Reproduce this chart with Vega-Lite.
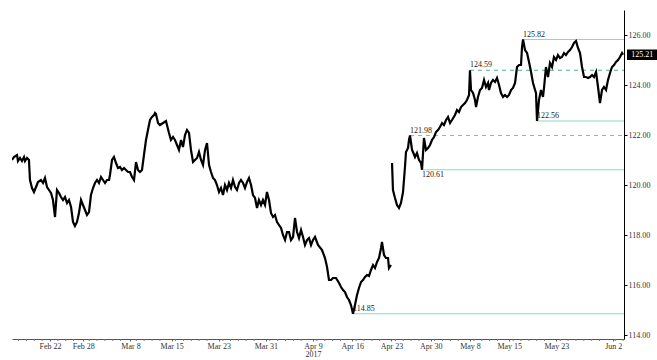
{
  "$schema": "https://vega.github.io/schema/vega-lite/v6.json",
  "width": 612,
  "height": 329,
  "autosize": "none",
  "padding": {"left": 12, "top": 10, "right": 33, "bottom": 21},
  "background": "white",
  "config": {
    "view": {"stroke": null},
    "font": "Liberation Sans Narrow",
    "text": {"font": "Liberation Sans Narrow"},
    "axis": {"labelFont": "Liberation Sans Narrow", "labelFontSize": 8, "labelColor": "#333", "grid": false}
  },
  "datasets": {
    "price": [
      {"t":-4.84,"p":121.00,"s":1},{"t":-4.59,"p":121.12,"s":1},{"t":-4.20,"p":121.20,"s":1},{"t":-4.08,"p":120.96,"s":1},{"t":-3.82,"p":121.08,"s":1},{"t":-3.57,"p":120.96,"s":1},{"t":-3.31,"p":121.12,"s":1},{"t":-3.18,"p":120.96,"s":1},{"t":-2.93,"p":121.08,"s":1},{"t":-2.68,"p":121.00,"s":1},
      {"t":-2.55,"p":120.20,"s":1},{"t":-2.29,"p":119.88,"s":1},{"t":-2.04,"p":119.72,"s":1},{"t":-1.78,"p":119.92,"s":1},{"t":-1.53,"p":120.12,"s":1},{"t":-1.15,"p":120.20,"s":1},{"t":-0.89,"p":120.08,"s":1},{"t":-0.64,"p":120.28,"s":1},{"t":-0.38,"p":119.92,"s":1},{"t":-0.13,"p":119.80,"s":1},
      {"t":0.13,"p":119.68,"s":1},{"t":0.38,"p":119.40,"s":1},{"t":0.64,"p":118.72,"s":1},{"t":0.89,"p":119.80,"s":1},{"t":1.15,"p":119.68,"s":1},{"t":1.40,"p":119.52,"s":1},{"t":1.66,"p":119.40,"s":1},{"t":1.91,"p":119.52,"s":1},{"t":2.17,"p":119.28,"s":1},{"t":2.42,"p":119.40,"s":1},
      {"t":2.68,"p":119.12,"s":1},{"t":2.93,"p":118.52,"s":1},{"t":3.18,"p":118.36,"s":1},{"t":3.44,"p":118.52,"s":1},{"t":3.69,"p":118.88,"s":1},{"t":3.95,"p":119.40,"s":1},{"t":4.20,"p":119.20,"s":1},{"t":4.46,"p":119.00,"s":1},{"t":4.71,"p":118.80,"s":1},{"t":4.97,"p":118.92,"s":1},
      {"t":5.22,"p":119.60,"s":1},{"t":5.48,"p":119.88,"s":1},{"t":5.73,"p":120.08,"s":1},{"t":5.99,"p":120.20,"s":1},{"t":6.24,"p":120.08,"s":1},{"t":6.50,"p":120.32,"s":1},{"t":6.75,"p":120.20,"s":1},{"t":7.01,"p":120.08,"s":1},{"t":7.26,"p":120.20,"s":1},{"t":7.52,"p":120.20,"s":1},
      {"t":7.64,"p":120.40,"s":1},{"t":7.90,"p":121.00,"s":1},{"t":8.15,"p":121.12,"s":1},{"t":8.41,"p":120.88,"s":1},{"t":8.66,"p":120.68,"s":1},{"t":8.92,"p":120.72,"s":1},{"t":9.17,"p":120.60,"s":1},{"t":9.43,"p":120.68,"s":1},{"t":9.68,"p":120.60,"s":1},{"t":9.94,"p":120.52,"s":1},
      {"t":10.19,"p":120.52,"s":1},{"t":10.45,"p":120.32,"s":1},{"t":10.70,"p":120.20,"s":1},{"t":10.96,"p":120.92,"s":1},{"t":11.21,"p":120.60,"s":1},{"t":11.46,"p":120.52,"s":1},{"t":11.72,"p":120.60,"s":1},{"t":11.97,"p":121.20,"s":1},{"t":12.23,"p":121.80,"s":1},{"t":12.48,"p":122.20,"s":1},
      {"t":12.74,"p":122.60,"s":1},{"t":12.99,"p":122.72,"s":1},{"t":13.25,"p":122.80,"s":1},{"t":13.38,"p":122.88,"s":1},{"t":13.50,"p":122.84,"s":1},{"t":13.76,"p":122.48,"s":1},{"t":14.01,"p":122.40,"s":1},{"t":14.40,"p":122.48,"s":1},{"t":14.78,"p":122.56,"s":1},{"t":14.90,"p":122.40,"s":1},
      {"t":15.16,"p":122.08,"s":1},{"t":15.41,"p":121.80,"s":1},{"t":15.67,"p":121.92,"s":1},{"t":15.92,"p":121.80,"s":1},{"t":16.18,"p":121.60,"s":1},{"t":16.43,"p":121.40,"s":1},{"t":16.69,"p":121.80,"s":1},{"t":16.94,"p":121.52,"s":1},{"t":17.20,"p":122.00,"s":1},{"t":17.45,"p":122.20,"s":1},
      {"t":17.71,"p":122.08,"s":1},{"t":17.96,"p":121.40,"s":1},{"t":18.22,"p":120.92,"s":1},{"t":18.47,"p":121.00,"s":1},{"t":18.73,"p":121.08,"s":1},{"t":18.98,"p":121.32,"s":1},{"t":19.24,"p":121.00,"s":1},{"t":19.49,"p":120.80,"s":1},{"t":19.75,"p":121.40,"s":1},{"t":20.00,"p":121.68,"s":1},
      {"t":20.26,"p":120.80,"s":1},{"t":20.51,"p":120.52,"s":1},{"t":20.77,"p":120.28,"s":1},{"t":21.02,"p":120.20,"s":1},{"t":21.27,"p":120.00,"s":1},{"t":21.53,"p":119.72,"s":1},{"t":21.78,"p":119.88,"s":1},{"t":22.04,"p":119.60,"s":1},{"t":22.29,"p":120.00,"s":1},{"t":22.55,"p":119.80,"s":1},
      {"t":22.80,"p":120.08,"s":1},{"t":23.06,"p":119.88,"s":1},{"t":23.31,"p":120.20,"s":1},{"t":23.57,"p":119.92,"s":1},{"t":23.82,"p":119.80,"s":1},{"t":24.08,"p":120.08,"s":1},{"t":24.33,"p":120.20,"s":1},{"t":24.59,"p":120.08,"s":1},{"t":24.84,"p":119.88,"s":1},{"t":25.10,"p":120.12,"s":1},
      {"t":25.35,"p":120.28,"s":1},{"t":25.61,"p":120.00,"s":1},{"t":25.86,"p":119.60,"s":1},{"t":26.12,"p":119.48,"s":1},{"t":26.37,"p":119.08,"s":1},{"t":26.62,"p":119.40,"s":1},{"t":26.88,"p":119.20,"s":1},{"t":27.13,"p":119.40,"s":1},{"t":27.39,"p":119.20,"s":1},{"t":27.64,"p":119.72,"s":1},
      {"t":27.90,"p":119.40,"s":1},{"t":28.15,"p":118.88,"s":1},{"t":28.41,"p":118.72,"s":1},{"t":28.66,"p":118.80,"s":1},{"t":28.92,"p":118.52,"s":1},{"t":29.17,"p":118.40,"s":1},{"t":29.43,"p":118.28,"s":1},{"t":29.68,"p":118.00,"s":1},{"t":29.94,"p":117.80,"s":1},{"t":30.19,"p":118.12,"s":1},
      {"t":30.45,"p":118.12,"s":1},{"t":30.70,"p":117.80,"s":1},{"t":30.96,"p":117.92,"s":1},{"t":31.21,"p":118.68,"s":1},{"t":31.47,"p":118.12,"s":1},{"t":31.72,"p":117.88,"s":1},{"t":31.98,"p":118.20,"s":1},{"t":32.23,"p":117.92,"s":1},{"t":32.48,"p":117.60,"s":1},{"t":32.74,"p":117.80,"s":1},
      {"t":32.99,"p":117.88,"s":1},{"t":33.25,"p":117.60,"s":1},{"t":33.50,"p":117.80,"s":1},{"t":33.76,"p":117.92,"s":1},{"t":34.14,"p":117.60,"s":1},{"t":34.65,"p":117.40,"s":1},{"t":35.03,"p":117.08,"s":1},{"t":35.29,"p":116.72,"s":1},{"t":35.54,"p":116.20,"s":1},{"t":35.80,"p":116.20,"s":1},
      {"t":36.05,"p":116.28,"s":1},{"t":36.43,"p":116.28,"s":1},{"t":36.82,"p":116.08,"s":1},{"t":37.07,"p":115.92,"s":1},{"t":37.33,"p":115.80,"s":1},{"t":37.58,"p":115.72,"s":1},{"t":37.83,"p":115.52,"s":1},{"t":38.09,"p":115.40,"s":1},{"t":38.34,"p":115.20,"s":1},{"t":38.60,"p":114.85,"s":1},
      {"t":38.85,"p":115.20,"s":1},{"t":39.11,"p":115.60,"s":1},{"t":39.36,"p":115.88,"s":1},{"t":39.62,"p":116.12,"s":1},{"t":39.87,"p":116.20,"s":1},{"t":40.13,"p":116.32,"s":1},{"t":40.38,"p":116.40,"s":1},{"t":40.64,"p":116.36,"s":1},{"t":40.89,"p":116.60,"s":1},{"t":41.15,"p":116.80,"s":1},
      {"t":41.40,"p":116.68,"s":1},{"t":41.66,"p":116.92,"s":1},{"t":41.91,"p":117.08,"s":1},{"t":42.17,"p":117.48,"s":1},{"t":42.29,"p":117.72,"s":1},{"t":42.55,"p":117.20,"s":1},{"t":42.80,"p":117.08,"s":1},{"t":43.06,"p":117.08,"s":1},{"t":43.18,"p":116.68,"s":1},{"t":43.44,"p":116.80,"s":1},
      {"t":43.57,"p":120.88,"s":2},{"t":43.69,"p":119.80,"s":2},{"t":43.95,"p":119.48,"s":2},{"t":44.20,"p":119.20,"s":2},{"t":44.46,"p":119.08,"s":2},{"t":44.71,"p":119.28,"s":2},{"t":44.97,"p":119.72,"s":2},{"t":45.22,"p":120.72,"s":2},{"t":45.35,"p":121.32,"s":2},{"t":45.61,"p":121.48,"s":2},
      {"t":45.73,"p":121.80,"s":2},{"t":45.86,"p":121.98,"s":2},{"t":46.12,"p":121.40,"s":2},{"t":46.24,"p":121.32,"s":2},{"t":46.50,"p":121.12,"s":2},{"t":46.75,"p":121.28,"s":2},{"t":47.01,"p":121.00,"s":2},{"t":47.26,"p":120.88,"s":2},{"t":47.39,"p":120.61,"s":2},{"t":47.64,"p":121.88,"s":2},
      {"t":47.89,"p":121.40,"s":2},{"t":48.15,"p":121.48,"s":2},{"t":48.41,"p":121.60,"s":2},{"t":48.66,"p":121.80,"s":2},{"t":48.92,"p":121.92,"s":2},{"t":49.17,"p":122.12,"s":2},{"t":49.43,"p":122.20,"s":2},{"t":49.68,"p":122.32,"s":2},{"t":49.94,"p":122.48,"s":2},{"t":50.19,"p":122.40,"s":2},
      {"t":50.45,"p":122.60,"s":2},{"t":50.70,"p":122.72,"s":2},{"t":50.96,"p":122.48,"s":2},{"t":51.21,"p":122.60,"s":2},{"t":51.59,"p":122.80,"s":2},{"t":51.85,"p":123.00,"s":2},{"t":52.10,"p":122.92,"s":2},{"t":52.36,"p":123.12,"s":2},{"t":52.61,"p":123.20,"s":2},{"t":52.87,"p":123.28,"s":2},
      {"t":53.12,"p":123.40,"s":2},{"t":53.38,"p":123.60,"s":2},{"t":53.50,"p":124.59,"s":2},{"t":53.63,"p":123.80,"s":2},{"t":53.89,"p":123.68,"s":2},{"t":54.14,"p":123.40,"s":2},{"t":54.27,"p":123.12,"s":2},{"t":54.52,"p":123.52,"s":2},{"t":54.78,"p":123.80,"s":2},{"t":55.03,"p":123.88,"s":2},
      {"t":55.29,"p":124.20,"s":2},{"t":55.54,"p":123.92,"s":2},{"t":55.80,"p":124.08,"s":2},{"t":55.92,"p":123.80,"s":2},{"t":56.18,"p":124.08,"s":2},{"t":56.43,"p":124.20,"s":2},{"t":56.69,"p":124.12,"s":2},{"t":56.94,"p":124.28,"s":2},{"t":57.20,"p":124.00,"s":2},{"t":57.45,"p":123.68,"s":2},
      {"t":57.71,"p":123.52,"s":2},{"t":57.96,"p":123.60,"s":2},{"t":58.22,"p":123.52,"s":2},{"t":58.47,"p":123.60,"s":2},{"t":58.73,"p":123.80,"s":2},{"t":58.98,"p":123.88,"s":2},{"t":59.24,"p":124.08,"s":2},{"t":59.49,"p":124.72,"s":2},{"t":59.75,"p":124.80,"s":2},{"t":60.00,"p":124.80,"s":2},
      {"t":60.13,"p":125.52,"s":2},{"t":60.26,"p":125.82,"s":2},{"t":60.51,"p":125.40,"s":2},{"t":60.77,"p":125.28,"s":2},{"t":61.02,"p":124.92,"s":2},{"t":61.28,"p":124.52,"s":2},{"t":61.53,"p":124.08,"s":2},{"t":61.79,"p":123.80,"s":2},{"t":61.91,"p":123.68,"s":2},{"t":62.04,"p":122.56,"s":2},
      {"t":62.29,"p":123.40,"s":2},{"t":62.55,"p":123.80,"s":2},{"t":62.80,"p":123.52,"s":2},{"t":62.93,"p":123.88,"s":2},{"t":63.18,"p":124.72,"s":2},{"t":63.44,"p":124.32,"s":2},{"t":63.69,"p":124.88,"s":2},{"t":63.95,"p":124.72,"s":2},{"t":64.20,"p":125.12,"s":2},{"t":64.46,"p":125.00,"s":2},
      {"t":64.71,"p":125.20,"s":2},{"t":64.97,"p":125.08,"s":2},{"t":65.22,"p":125.12,"s":2},{"t":65.48,"p":125.28,"s":2},{"t":65.73,"p":125.20,"s":2},{"t":65.99,"p":125.32,"s":2},{"t":66.24,"p":125.40,"s":2},{"t":66.50,"p":125.52,"s":2},{"t":66.75,"p":125.68,"s":2},{"t":67.01,"p":125.76,"s":2},
      {"t":67.26,"p":125.48,"s":2},{"t":67.52,"p":125.28,"s":2},{"t":67.77,"p":124.72,"s":2},{"t":68.03,"p":124.32,"s":2},{"t":68.28,"p":124.32,"s":2},{"t":68.54,"p":124.28,"s":2},{"t":68.79,"p":124.32,"s":2},{"t":69.05,"p":124.40,"s":2},{"t":69.30,"p":124.32,"s":2},{"t":69.56,"p":124.52,"s":2},
      {"t":69.81,"p":123.92,"s":2},{"t":70.06,"p":123.28,"s":2},{"t":70.32,"p":123.80,"s":2},{"t":70.57,"p":123.92,"s":2},{"t":70.83,"p":123.80,"s":2},{"t":71.08,"p":124.20,"s":2},{"t":71.34,"p":124.48,"s":2},{"t":71.59,"p":124.72,"s":2},{"t":71.85,"p":124.80,"s":2},{"t":72.10,"p":124.92,"s":2},
      {"t":72.36,"p":125.00,"s":2},{"t":72.61,"p":125.12,"s":2},{"t":72.87,"p":125.28,"s":2},{"t":73.00,"p":125.21,"s":2}
    ],
    "levels": [
      {"level":125.82,"start":60.26,"end":73.12,"kind":"solid","label":"125.82","pos":"above"},
      {"level":124.59,"start":53.50,"end":73.12,"kind":"dash","label":"124.59","pos":"above"},
      {"level":122.56,"start":62.04,"end":73.12,"kind":"solid","label":"122.56","pos":"above"},
      {"level":121.98,"start":45.86,"end":73.12,"kind":"dash2","label":"121.98","pos":"above"},
      {"level":120.61,"start":47.39,"end":73.12,"kind":"solid","label":"120.61","pos":"below"},
      {"level":114.85,"start":38.60,"end":73.12,"kind":"solid","label":"114.85","pos":"above"}
    ],
    "days": [
      {"d":-4},{"d":-3},{"d":-2},{"d":-1},{"d":1},{"d":2},{"d":3},{"d":5},{"d":6},{"d":7},{"d":8},{"d":9},{"d":11},{"d":12},{"d":13},{"d":14},{"d":16},{"d":17},{"d":18},{"d":19},{"d":20},{"d":22},{"d":23},{"d":24},{"d":25},{"d":26},{"d":28},{"d":29},{"d":30},{"d":31},{"d":32},{"d":34},{"d":35},{"d":36},{"d":37},{"d":39},{"d":40},{"d":41},{"d":42},{"d":44},{"d":45},{"d":46},{"d":47},{"d":49},{"d":50},{"d":51},{"d":52},{"d":54},{"d":55},{"d":56},{"d":57},{"d":59},{"d":60},{"d":61},{"d":62},{"d":63},{"d":65},{"d":66},{"d":67},{"d":68},{"d":69},{"d":70},{"d":72},{"d":73}
    ],
    "last": [{"t":73.12,"p":125.21,"label":"125.21"}]
  },
  "layer": [
    {
      "data": {"name": "levels"},
      "mark": {"type": "rule", "strokeWidth": 1},
      "encoding": {
        "x": {"field": "start", "type": "quantitative", "scale": {"domain": [-4.84, 73.12], "nice": false, "zero": false},
          "axis": {
            "title": null,
            "values": [0,4.25,10.25,15.5,21.5,27.5,33.5,38.5,43.5,48.5,53.5,58.5,64.5,71.75],
            "labelExpr": "datum.value < 2 ? 'Feb 22' : datum.value < 7 ? 'Feb 28' : datum.value < 12 ? 'Mar 8' : datum.value < 18 ? 'Mar 15' : datum.value < 24 ? 'Mar 23' : datum.value < 30 ? 'Mar 31' : datum.value < 36 ? ['Apr 9', '2017'] : datum.value < 41 ? 'Apr 16' : datum.value < 46 ? 'Apr 23' : datum.value < 51 ? 'Apr 30' : datum.value < 56 ? 'May 8' : datum.value < 61 ? 'May 15' : datum.value < 68 ? 'May 23' : 'Jun 2'",
            "labelOverlap": false,
            "labelPadding": 1,
            "tickSize": 2,
            "tickColor": "#666",
            "domainColor": "#555",
            "labelFlush": false,
            "labelBound": false,
            "labelLineHeight": 8
          }
        },
        "x2": {"field": "end"},
        "y": {"field": "level", "type": "quantitative", "scale": {"domain": [113.84, 127.0], "nice": false, "zero": false},
          "axis": {"orient": "right", "title": null, "values": [114,115,116,117,118,119,120,121,122,123,124,125,126], "labelExpr": "datum.value % 2 == 0 ? format(datum.value, '.2f') : ''", "labelOverlap": false, "tickSize": 3, "labelPadding": 1, "tickColor": "#000", "domainColor": "#000", "labelColor": "#333"}
        },
        "color": {"field": "kind", "type": "nominal", "scale": {"domain": ["solid","dash","dash2"], "range": ["#8fd6c4","#4fae9b","#9ab5ad"]}, "legend": null},
        "strokeDash": {"field": "kind", "type": "nominal", "scale": {"domain": ["solid","dash","dash2"], "range": [[1,0],[4,4],[4,4]]}, "legend": null}
      }
    },
    {
      "data": {"name": "days"},
      "mark": {"type": "rule", "clip": false, "color": "#777", "strokeWidth": 1},
      "encoding": {
        "x": {"field": "d", "type": "quantitative"},
        "y": {"datum": 113.84, "type": "quantitative"},
        "y2": {"datum": 113.76}
      }
    },
    {
      "data": {"name": "levels"},
      "transform": [{"filter": "datum.pos == 'above'"}],
      "mark": {"type": "text", "align": "left", "baseline": "bottom", "dy": -1, "dx": 0, "fontSize": 8, "fill": "#222"},
      "encoding": {
        "x": {"field": "start", "type": "quantitative"},
        "y": {"field": "level", "type": "quantitative"},
        "text": {"field": "label"}
      }
    },
    {
      "data": {"name": "levels"},
      "transform": [{"filter": "datum.pos == 'below'"}],
      "mark": {"type": "text", "align": "left", "baseline": "top", "dy": 1, "dx": 0, "fontSize": 8, "fill": "#222"},
      "encoding": {
        "x": {"field": "start", "type": "quantitative"},
        "y": {"field": "level", "type": "quantitative"},
        "text": {"field": "label"}
      }
    },
    {
      "data": {"name": "price"},
      "mark": {"type": "line", "color": "#000", "strokeWidth": 2.2, "strokeJoin": "miter", "clip": true},
      "encoding": {
        "x": {"field": "t", "type": "quantitative"},
        "y": {"field": "p", "type": "quantitative"},
        "detail": {"field": "s", "type": "nominal"}
      }
    },
    {
      "data": {"name": "last"},
      "mark": {"type": "rect", "color": "#000", "clip": false},
      "encoding": {
        "x": {"datum": 73.5, "type": "quantitative"},
        "x2": {"datum": 77.4},
        "y": {"datum": 125.42, "type": "quantitative"},
        "y2": {"datum": 125.0}
      }
    },
    {
      "data": {"name": "last"},
      "mark": {"type": "text", "color": "#fff", "align": "center", "baseline": "middle", "fontSize": 8, "clip": false},
      "encoding": {
        "x": {"datum": 75.45, "type": "quantitative"},
        "y": {"field": "p", "type": "quantitative"},
        "text": {"field": "label"}
      }
    }
  ]
}
